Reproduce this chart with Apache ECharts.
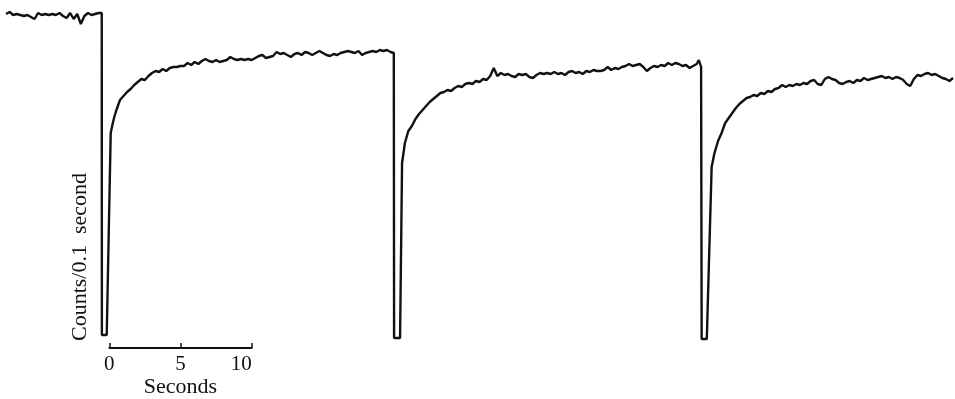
<!DOCTYPE html>
<html>
<head>
<meta charset="utf-8">
<script src="https://cdn.jsdelivr.net/npm/echarts@6/dist/echarts.min.js"></script>
<style>
  html, body { margin: 0; padding: 0; background: #fff; }
  #chart { width: 955px; height: 399px; }
</style>
</head>
<body>
<div id="chart"></div>
<script>
// ---- data ----
const seconds = [
  -7.25,-7,-6.75,-6.5,-6.25,-6,-5.75,-5.5,-5.25,-5,-4.75,-4.5,-4.25,-4,-3.75,-3.5,-3.25,-3,-2.75,-2.5,-2.25,-2,-1.75,-1.5,-1.25,-1,-0.75,-0.53,
  -0.52,-0.18,
  0.1,0.2,0.35,0.5,0.75,1,1.25,1.5,1.75,
  2,2.25,2.5,2.75,3,3.25,3.5,3.75,4,4.25,4.5,4.75,5,5.25,5.5,5.75,6,6.25,6.5,6.75,7,7.25,7.5,7.75,8,8.25,8.5,8.75,9,9.25,9.5,9.75,
  10,10.25,10.5,10.75,11,11.25,11.5,11.75,12,12.25,12.5,12.75,13,13.25,13.5,13.75,14,14.25,14.5,14.75,15,15.25,15.5,15.75,
  16,16.25,16.5,16.75,17,17.25,17.5,17.75,18,18.25,18.5,18.75,19,19.25,19.5,19.75,19.98,
  20,20.42,
  20.56,20.62,20.76,
  21,21.25,21.5,21.75,22,22.25,22.5,22.75,23,23.25,23.5,23.75,24,24.25,24.5,24.75,25,25.25,25.5,25.75,26,26.25,26.5,26.75,
  27,27.25,27.5,27.75,28,28.25,28.5,28.75,29,29.25,29.5,29.75,30,30.25,30.5,30.75,31,31.25,31.5,31.75,32,32.25,32.5,32.75,
  33,33.25,33.5,33.75,34,34.25,34.5,34.75,35,35.25,35.5,35.75,36,36.25,36.5,36.75,37,37.25,37.5,37.75,38,38.25,38.5,38.75,
  39,39.25,39.5,39.75,40,40.25,40.5,40.75,41,41.25,41.4,41.56,
  41.6,41.96,
  42.3,42.5,42.75,43,43.25,43.5,43.75,44,44.25,44.5,44.75,45,45.25,45.5,45.75,46,46.25,46.5,46.75,47,47.25,47.5,47.75,
  48,48.25,48.5,48.75,49,49.25,49.5,49.75,50,50.25,50.5,50.75,51,51.25,51.5,51.75,52,52.25,52.5,52.75,53,53.25,53.5,53.75,
  54,54.25,54.5,54.75,55,55.25,55.5,55.75,56,56.25,56.5,56.75,57,57.25,57.5,57.75,58,58.25,58.5,58.75,59,59.25
];
const counts = [
  326,328,325,326,325,324,325,323,321,327,325,326,325,326,325,327,324,322,327,321,326,316,324,327,325,326,327,327,
  5,5,
  207,214,223,230,240,244,248,251,255,
  258,261,260,264,267,269,268,271,269,272,273,273,274,274,277,275,278,276,279,281,279,278,280,278,279,280,283,281,280,281,280,281,
  280,282,284,285,282,283,284,288,286,287,285,283,286,287,285,288,287,285,287,289,287,285,284,286,
  285,287,288,289,288,287,289,285,287,288,289,288,290,289,290,288,287,
  2,2,
  177,183,197,
  209,214,221,226,230,234,238,241,244,247,248,250,249,252,254,253,256,257,256,259,258,261,260,264,
  272,264,267,265,266,264,263,266,265,266,263,262,265,267,266,267,266,268,266,267,265,268,269,267,
  268,266,269,268,270,269,269,270,273,270,272,271,273,274,276,274,275,276,273,269,272,274,273,275,
  274,277,275,277,276,274,275,272,274,276,280,273,
  1,1,
  173,187,199,207,217,222,227,232,236,239,242,243,245,244,247,246,249,248,251,252,255,253,255,
  254,256,255,257,256,259,260,256,255,261,263,261,260,257,256,258,259,257,260,259,262,260,261,262,
  263,264,262,263,261,263,262,260,256,254,261,265,264,266,267,265,266,264,262,261,259,262
];
const scaleTicks = [0, 5, 10];
const xLabel = 'Seconds';
const yLabel = 'Counts/0.1  second';

const trace = seconds.map((t, i) => [t, counts[i]]);

const chart = echarts.init(document.getElementById('chart'), null, { renderer: 'canvas' });
const serif = '"Liberation Serif", "DejaVu Serif", serif';

chart.setOption({
  animation: false,
  backgroundColor: '#ffffff',
  grid: [
    { left: 0, right: 0, top: 0, height: 340 },
    { left: 109.3, width: 142.4, top: 340, height: 12 }
  ],
  xAxis: [
    { gridIndex: 0, type: 'value', min: -7.675, max: 59.39, show: false },
    {
      gridIndex: 1, type: 'value',
      min: scaleTicks[0], max: scaleTicks[scaleTicks.length - 1], interval: scaleTicks[1] - scaleTicks[0],
      axisLine: { show: true, lineStyle: { color: '#111', width: 1.8 } },
      axisTick: { show: true, inside: true, length: 5, lineStyle: { color: '#111', width: 1.5 } },
      splitLine: { show: false },
      axisLabel: { color: '#111', fontFamily: serif, fontSize: 21, margin: 6, alignMaxLabel: 'right' },
      name: xLabel, nameLocation: 'middle', nameGap: 27,
      nameTextStyle: { color: '#111', fontFamily: serif, fontSize: 22 }
    }
  ],
  yAxis: [
    { gridIndex: 0, type: 'value', min: 0, max: 340, show: false },
    { gridIndex: 1, type: 'value', min: 0, max: 1, show: false }
  ],
  graphic: [{
    type: 'text',
    x: 80, y: 257,
    rotation: Math.PI / 2,
    style: {
      text: yLabel,
      fill: '#111',
      font: '22px ' + serif,
      textAlign: 'center',
      textVerticalAlign: 'middle'
    }
  }],
  series: [{
    type: 'line',
    xAxisIndex: 0, yAxisIndex: 0,
    data: trace,
    showSymbol: false,
    smooth: false,
    lineStyle: { color: '#111', width: 2.4 }
  }]
});
</script>
</body>
</html>
